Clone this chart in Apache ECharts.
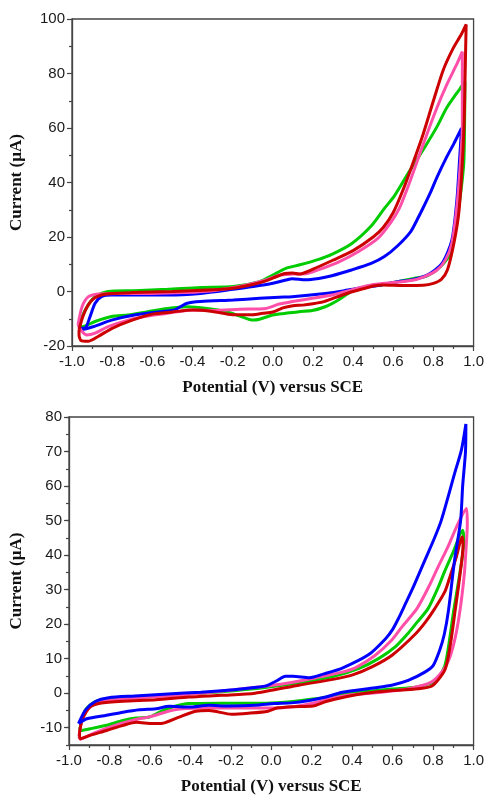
<!DOCTYPE html>
<html>
<head>
<meta charset="utf-8">
<script src="https://cdn.jsdelivr.net/npm/echarts@6/dist/echarts.min.js"></script>
<style>
html,body{margin:0;padding:0;background:#fff;}
#chart{width:487px;height:797px;}
</style>
</head>
<body>
<div id="chart"></div>
<script>
// ---- Panel (top) : cyclic voltammograms, [potential V, current uA] ----
var topRed = [[-0.965,-14],[-0.945,-9],[-0.92,-5],[-0.89,-2.5],[-0.85,-1.2],[-0.8,-0.7],[-0.7,-0.4],[-0.5,0],[-0.3,0.6],[-0.2,1.2],[-0.1,2.6],[-0.03,4],[0.02,5.5],[0.06,6.6],[0.1,6.8],[0.13,6.4],[0.2,8.2],[0.3,11.5],[0.4,15],[0.5,20],[0.55,23.5],[0.6,29],[0.65,37.5],[0.7,47.5],[0.75,58],[0.8,70],[0.85,81.5],[0.9,89.5],[0.94,94.5],[0.963,98],[0.958,80],[0.953,62],[0.94,42],[0.925,28],[0.9,17],[0.87,8],[0.84,4.5],[0.8,3],[0.75,2.3],[0.65,2.2],[0.55,2.4],[0.5,2],[0.45,1],[0.4,0],[0.35,-1.2],[0.3,-2.5],[0.25,-3.8],[0.2,-4.5],[0.15,-5],[0.1,-5.2],[0.05,-6],[0.0,-7.5],[-0.05,-8],[-0.1,-8.5],[-0.2,-8.5],[-0.3,-7.3],[-0.4,-6.8],[-0.5,-7.5],[-0.6,-8.3],[-0.7,-10.5],[-0.8,-13.5],[-0.87,-16.5],[-0.92,-18.3],[-0.955,-18],[-0.965,-16],[-0.965,-14]];
var topGreen = [[-0.967,-12.9],[-0.934,-6.8],[-0.885,-1.9],[-0.82,0],[-0.689,0.3],[-0.525,0.8],[-0.36,1.5],[-0.197,1.8],[-0.066,3.6],[0,6],[0.065,8.5],[0.13,9.7],[0.229,11.8],[0.294,13.6],[0.392,17.5],[0.49,24],[0.556,30.5],[0.605,35],[0.671,43],[0.753,52.5],[0.818,60.5],[0.867,67.5],[0.933,74.5],[0.957,77],[0.955,60],[0.95,45.8],[0.917,26.2],[0.884,14],[0.835,9.1],[0.769,5.7],[0.704,4.8],[0.622,3.6],[0.54,2.4],[0.458,1.8],[0.392,0],[0.327,-3.1],[0.261,-5.6],[0.196,-7],[0.13,-7.4],[0.065,-8],[0,-8.6],[-0.066,-10.2],[-0.098,-10.5],[-0.164,-9],[-0.23,-7.4],[-0.328,-6.2],[-0.426,-5.6],[-0.525,-6.2],[-0.623,-7.4],[-0.72,-8.6],[-0.803,-9.2],[-0.885,-11],[-0.95,-12.9],[-0.967,-12.9]];
var topBlue = [[-0.964,-13.5],[-0.934,-13.3],[-0.91,-9.2],[-0.885,-4.3],[-0.853,-1.9],[-0.803,-1.3],[-0.689,-1.3],[-0.525,-1.3],[-0.36,-0.7],[-0.197,0.8],[-0.098,1.8],[0,3],[0.065,4.2],[0.097,4.7],[0.163,4.3],[0.229,4.8],[0.294,5.8],[0.392,7.9],[0.49,10.3],[0.556,12.8],[0.622,16.8],[0.687,22],[0.72,26.5],[0.744,30],[0.786,36.5],[0.818,42],[0.867,49.5],[0.9,54],[0.94,59.9],[0.93,48],[0.917,33.6],[0.892,18.9],[0.843,10.3],[0.769,6],[0.687,4.2],[0.622,3.6],[0.54,2.4],[0.425,1.2],[0.35,0.2],[0.261,-0.7],[0.097,-1.9],[0.032,-2.1],[-0.066,-2.5],[-0.197,-3.1],[-0.36,-3.7],[-0.426,-4.3],[-0.46,-5.6],[-0.49,-6.8],[-0.557,-7.4],[-0.689,-8.6],[-0.803,-10.5],[-0.885,-12.7],[-0.95,-13.9],[-0.964,-13.5]];
var topPink = [[-0.97,-12.3],[-0.95,-5.6],[-0.918,-1.9],[-0.869,-0.9],[-0.77,-0.7],[-0.607,-0.7],[-0.443,-0.4],[-0.279,0.5],[-0.131,2.4],[-0.034,4.2],[0.032,6],[0.097,6.4],[0.163,6.5],[0.229,8],[0.327,10.8],[0.425,14.6],[0.523,19.5],[0.589,25.5],[0.63,30.5],[0.671,38],[0.72,48],[0.769,58],[0.818,67.5],[0.867,76],[0.917,83.5],[0.944,88],[0.944,60.5],[0.933,45.8],[0.917,31.2],[0.892,17.7],[0.86,11.6],[0.818,7.9],[0.753,5.4],[0.687,4],[0.589,3.2],[0.49,2.4],[0.392,0.6],[0.294,-1.3],[0.196,-2.5],[0.097,-3.7],[0.032,-4.6],[-0.034,-6.2],[-0.164,-6.5],[-0.295,-7],[-0.393,-6.8],[-0.475,-7.4],[-0.525,-8],[-0.623,-9],[-0.72,-10.5],[-0.82,-12.9],[-0.885,-15.3],[-0.926,-16],[-0.95,-14.7],[-0.97,-12.3]];

// ---- Panel (bottom) ----
var botBlue = [[-0.953,-8.8],[-0.918,-4.8],[-0.87,-2.4],[-0.804,-1.3],[-0.674,-0.8],[-0.511,-0.2],[-0.348,0.3],[-0.185,1],[-0.071,1.7],[-0.022,2.2],[0.027,3.6],[0.07,4.9],[0.107,4.9],[0.188,4.5],[0.26,5.6],[0.351,7.3],[0.482,11.2],[0.565,15.8],[0.6,18.5],[0.63,21.8],[0.66,25.5],[0.7,30.5],[0.759,38.5],[0.8,44],[0.84,50],[0.906,63.6],[0.94,70.5],[0.962,78],[0.96,70],[0.946,60],[0.936,50],[0.906,38.5],[0.876,24],[0.855,17],[0.832,12.4],[0.8,8],[0.759,6.1],[0.677,3.7],[0.6,2.4],[0.514,1.6],[0.351,0.3],[0.27,-1.1],[0.188,-2.1],[0.1,-2.8],[0.017,-3.0],[-0.08,-3.5],[-0.211,-3.7],[-0.309,-3.5],[-0.407,-4.0],[-0.505,-3.8],[-0.57,-4.5],[-0.651,-4.8],[-0.733,-5.5],[-0.814,-6.4],[-0.912,-7.4],[-0.953,-8.8]];
var botPink = [[-0.951,-12.5],[-0.935,-7.7],[-0.902,-4.3],[-0.837,-2.4],[-0.674,-1.4],[-0.511,-0.8],[-0.348,0],[-0.185,1],[-0.022,2.1],[0.107,3.2],[0.222,4.5],[0.351,6.1],[0.42,7.5],[0.514,11],[0.597,15.5],[0.65,19.5],[0.72,24.5],[0.78,31],[0.824,36.5],[0.87,42],[0.922,49],[0.965,53.5],[0.969,49],[0.963,42],[0.955,35],[0.942,28],[0.925,21],[0.905,15],[0.88,10],[0.848,6.5],[0.791,3.2],[0.677,1.3],[0.514,0.1],[0.385,-0.5],[0.304,-1.4],[0.206,-2.9],[0.108,-3.9],[0.01,-4.3],[-0.185,-4.3],[-0.348,-4.3],[-0.478,-4.8],[-0.593,-6.7],[-0.674,-7.7],[-0.788,-9.6],[-0.87,-11.4],[-0.927,-12.9],[-0.943,-13.3],[-0.951,-12.5]];
var botGreen = [[-0.948,-10.6],[-0.918,-4.8],[-0.87,-2.4],[-0.788,-1.4],[-0.674,-1],[-0.511,-0.5],[-0.348,0],[-0.185,0.7],[-0.022,1.7],[0.141,3.1],[0.304,4.8],[0.434,7.2],[0.532,10.1],[0.614,13.5],[0.677,17.4],[0.72,20.5],[0.775,24.5],[0.826,30.8],[0.857,35.3],[0.9,41],[0.946,47.2],[0.952,44],[0.93,34],[0.902,24],[0.88,15],[0.858,8],[0.82,4],[0.79,2.9],[0.712,1.7],[0.597,1.2],[0.467,0.5],[0.385,0],[0.304,-0.8],[0.206,-1.7],[0.108,-2.4],[-0.022,-2.9],[-0.185,-2.9],[-0.244,-2.9],[-0.407,-3.0],[-0.488,-4.0],[-0.553,-5.5],[-0.602,-6.9],[-0.667,-7.2],[-0.733,-7.9],[-0.814,-9.3],[-0.896,-10.3],[-0.945,-10.8],[-0.948,-10.6]];
var botRed = [[-0.948,-11.6],[-0.936,-7.9],[-0.896,-4.0],[-0.847,-2.9],[-0.733,-2.3],[-0.57,-1.9],[-0.407,-1.1],[-0.244,-0.6],[-0.08,0],[0.141,2.4],[0.304,4],[0.402,5.3],[0.5,7.7],[0.597,11],[0.71,17],[0.761,20.5],[0.808,24.5],[0.858,29.4],[0.883,33.7],[0.915,39.5],[0.943,45.3],[0.948,43],[0.93,33],[0.909,24],[0.885,14],[0.86,7],[0.82,3.5],[0.79,2],[0.712,1.2],[0.597,0.8],[0.467,0],[0.369,-1],[0.271,-2.4],[0.206,-3.7],[0.108,-3.9],[0.027,-4.3],[-0.016,-5.2],[-0.113,-5.8],[-0.195,-6.1],[-0.309,-5.0],[-0.374,-5.2],[-0.456,-6.9],[-0.537,-8.7],[-0.586,-8.8],[-0.667,-8.4],[-0.733,-9.3],[-0.814,-10.8],[-0.896,-12.2],[-0.945,-13.2],[-0.948,-11.6]];

var xTitle = 'Potential (V) versus SCE';
var yTitle = 'Current (\u00b5A)';
var botYLabels = [-10,0,10,20,30,40,50,60,70,80];

var colors = {red:'#cc0000', green:'#00cc00', blue:'#0000ff', pink:'#ff4fa8'};

var chart = echarts.init(document.getElementById('chart'), null, {renderer:'canvas'});
var axisCol = '#444';
var lblFont = {color:'#1a1a1a', fontFamily:'Liberation Sans', fontSize:15};
var titleFont = {color:'#111', fontFamily:'Liberation Serif', fontWeight:'bold', fontSize:17};
function fmt1(v){ if (Math.abs(v)<1e-9) v=0; return v.toFixed(1); }

function xAx(gi){
  return {type:'value', gridIndex:gi, min:-1, max:1, interval:0.2, position:'bottom',
    name:xTitle, nameLocation:'middle', nameGap:33, nameTextStyle:titleFont,
    axisLine:{show:true, onZero:false, lineStyle:{color:axisCol, width:1.3}},
    axisTick:{show:true, inside:false, length:5, lineStyle:{color:axisCol, width:1.2}},
    minorTick:{show:true, splitNumber:2, length:3, lineStyle:{color:axisCol, width:1.2}},
    axisLabel:Object.assign({margin:8, formatter:fmt1}, lblFont),
    splitLine:{show:false}};
}
function line(name, data, xi, yi, color){
  return {type:'line', name:name, data:data, xAxisIndex:xi, yAxisIndex:yi,
    showSymbol:false, symbol:'none', smooth:0.25, lineStyle:{color:color, width:3}, z:3};
}

var option = {
  backgroundColor:'#fff',
  animation:false,
  grid:[
    {left:70, top:19, width:407, height:327, show:true, borderColor:axisCol, borderWidth:1.3, backgroundColor:'transparent'},
    {left:67, top:417, width:409, height:328, show:true, borderColor:axisCol, borderWidth:1.3, backgroundColor:'transparent'}
  ],
  xAxis:[xAx(0), xAx(1)],
  yAxis:[
    {type:'value', gridIndex:0, min:-20, max:100, interval:20, position:'left',
      name:yTitle, nameLocation:'middle', nameGap:47, nameRotate:90, nameTextStyle:titleFont,
      axisLine:{show:true, onZero:false, lineStyle:{color:axisCol, width:1.3}},
      axisTick:{show:true, inside:false, length:5, lineStyle:{color:axisCol, width:1.2}},
      minorTick:{show:true, splitNumber:2, length:3, lineStyle:{color:axisCol, width:1.2}},
      axisLabel:Object.assign({margin:7}, lblFont), splitLine:{show:false}},
    {type:'value', gridIndex:1, min:-15, max:80, interval:5, position:'left',
      name:yTitle, nameLocation:'middle', nameGap:44, nameRotate:90, nameTextStyle:titleFont,
      axisLine:{show:true, onZero:false, lineStyle:{color:axisCol, width:1.3}},
      axisTick:{show:true, inside:false, length:3, lineStyle:{color:axisCol, width:1.2}},
      axisLabel:Object.assign({margin:7, customValues:botYLabels}, lblFont), splitLine:{show:false}},
    {type:'value', gridIndex:1, min:-15, max:80, interval:5, position:'left',
      axisLine:{show:false, onZero:false},
      axisTick:{show:true, inside:false, length:5, customValues:botYLabels, lineStyle:{color:axisCol, width:1.2}},
      axisLabel:{show:false}, splitLine:{show:false}}
  ],
  series:[
    line('green', topGreen, 0, 0, colors.green),
    line('blue', topBlue, 0, 0, colors.blue),
    line('pink', topPink, 0, 0, colors.pink),
    line('red', topRed, 0, 0, colors.red),
    line('green', botGreen, 1, 1, colors.green),
    line('pink', botPink, 1, 1, colors.pink),
    line('red', botRed, 1, 1, colors.red),
    line('blue', botBlue, 1, 1, colors.blue)
  ]
};
chart.setOption(option);
</script>
</body>
</html>
